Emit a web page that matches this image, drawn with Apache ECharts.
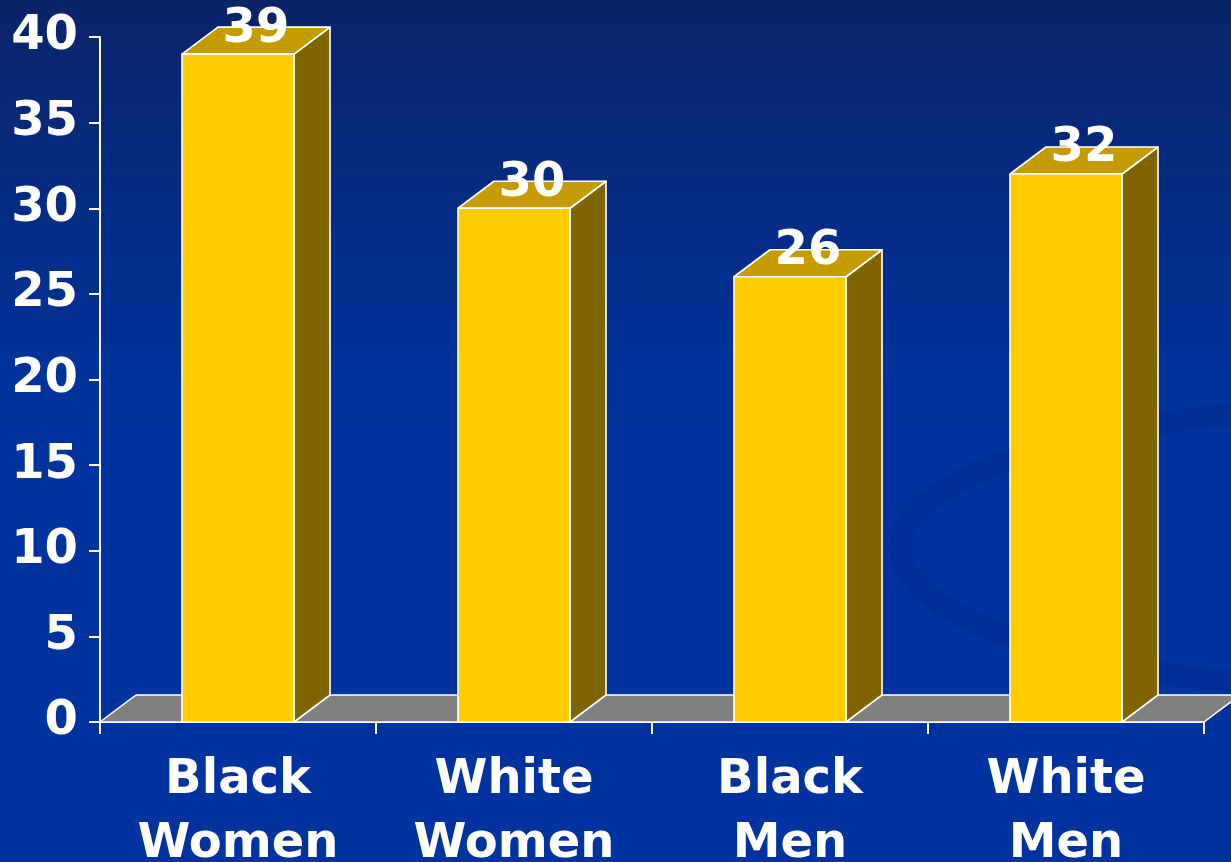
<!DOCTYPE html>
<html>
<head>
<meta charset="utf-8">
<script src="https://cdn.jsdelivr.net/npm/echarts@6/dist/echarts.min.js"></script>
<style>
  html, body { margin: 0; padding: 0; background: #0033a0; }
  #chart { width: 1231px; height: 862px; }
</style>
</head>
<body>
<div id="chart"></div>
<script>
// Groups and their values
const categories = ['Black\nWomen', 'White\nWomen', 'Black\nMen', 'White\nMen'];
const values = [39, 30, 26, 32];

// Value axis range
const yMin = 0;
const yMax = 40;
const yStep = 5;

// 3D depth offset of the bars and the floor slab
const DX = 36;
const DY = -27;
const FONT = '"DejaVu Sans", Verdana, sans-serif';

const chart = echarts.init(document.getElementById('chart'), null, { renderer: 'canvas' });

function renderFloor(params, api) {
  const cs = params.coordSys;
  const y0 = api.coord([0, yMin])[1];
  const xl = cs.x, xr = cs.x + cs.width;
  return {
    type: 'polygon',
    shape: { points: [[xl, y0], [xr, y0], [xr + DX, y0 + DY], [xl + DX, y0 + DY]] },
    style: { fill: '#808080', stroke: '#ffffff', lineWidth: 1.5 }
  };
}

function renderBar(params, api) {
  const idx = api.value(0);
  const v = api.value(1);
  const top = api.coord([idx, v]);
  const base = api.coord([idx, yMin]);
  const band = api.size([1, 0])[0];
  const w = band * 0.406;
  const x0 = top[0] - w / 2;
  const x1 = top[0] + w / 2;
  const yt = top[1];
  const yb = base[1];
  const edge = { stroke: '#ffffff', lineWidth: 1.6, lineJoin: 'round' };
  return {
    type: 'group',
    children: [
      {
        type: 'polygon',
        shape: { points: [[x1, yb], [x1 + DX, yb + DY], [x1 + DX, yt + DY], [x1, yt]] },
        style: Object.assign({ fill: '#806400' }, edge)
      },
      {
        type: 'polygon',
        shape: { points: [[x0, yt], [x0 + DX, yt + DY], [x1 + DX, yt + DY], [x1, yt]] },
        style: Object.assign({ fill: '#c49c00' }, edge)
      },
      {
        type: 'rect',
        shape: { x: x0, y: yt, width: w, height: yb - yt },
        style: Object.assign({ fill: '#ffcc00' }, edge)
      },
      {
        type: 'text',
        style: {
          text: String(v),
          x: top[0] + DX / 2,
          y: yt - 25,
          align: 'center',
          verticalAlign: 'middle',
          fill: '#ffffff',
          font: 'bold 48px ' + FONT
        }
      }
    ]
  };
}

const option = {
  backgroundColor: {
    type: 'linear', x: 0, y: 0, x2: 0, y2: 1,
    colorStops: [
      { offset: 0, color: '#0a2468' },
      { offset: 0.45, color: '#00339c' },
      { offset: 1, color: '#0033a0' }
    ]
  },
  animation: false,
  graphic: [
    {
      // faint decorative swirl in the background
      type: 'ellipse',
      z: 0,
      shape: { cx: 1400, cy: 548, rx: 500, ry: 142 },
      style: { fill: 'none', stroke: 'rgba(0, 30, 110, 0.18)', lineWidth: 22 }
    }
  ],
  grid: { left: 100, right: 27, top: 37, bottom: 140, containLabel: false, outerBoundsMode: 'none' },
  xAxis: {
    type: 'category',
    data: categories,
    boundaryGap: true,
    axisLine: { show: true, lineStyle: { color: '#ffffff', width: 2 } },
    axisTick: { show: true, length: 12, lineStyle: { color: '#ffffff', width: 2 } },
    axisLabel: {
      color: '#ffffff',
      fontFamily: FONT,
      fontWeight: 'bold',
      fontSize: 48,
      lineHeight: 64,
      margin: 27
    },
    splitLine: { show: false }
  },
  yAxis: {
    type: 'value',
    min: yMin,
    max: yMax,
    interval: yStep,
    axisLine: { show: true, lineStyle: { color: '#ffffff', width: 2 } },
    axisTick: { show: true, length: 11, lineStyle: { color: '#ffffff', width: 2 } },
    axisLabel: {
      color: '#ffffff',
      fontFamily: FONT,
      fontWeight: 'bold',
      fontSize: 48,
      margin: 22
    },
    splitLine: { show: false }
  },
  series: [
    {
      type: 'custom',
      z: 1,
      renderItem: renderFloor,
      data: [[0, 0]],
      silent: true
    },
    {
      type: 'custom',
      z: 2,
      renderItem: renderBar,
      encode: { x: 0, y: 1 },
      data: values.map((v, i) => [i, v])
    }
  ]
};

chart.setOption(option);
</script>
</body>
</html>
